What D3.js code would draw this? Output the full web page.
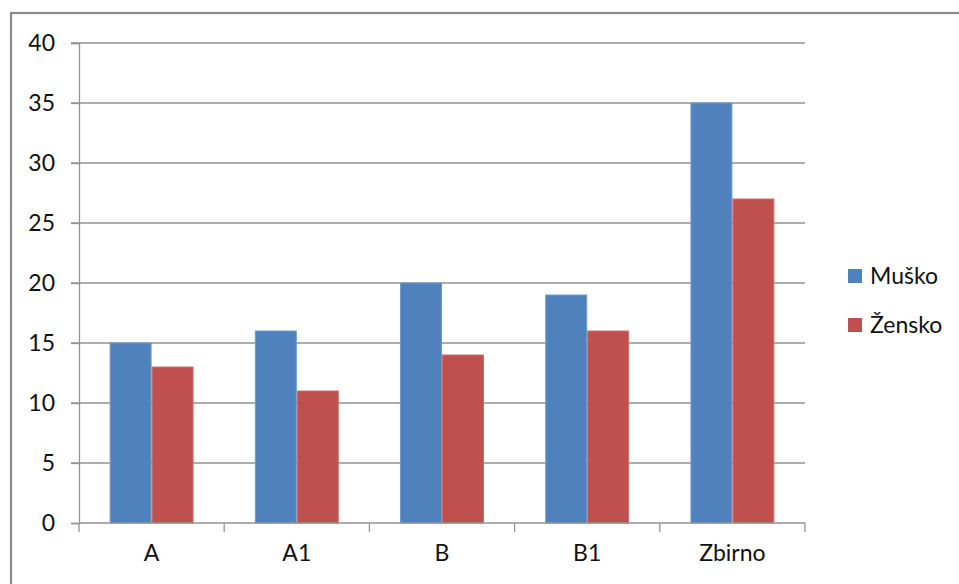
<!DOCTYPE html>
<html>
<head>
<meta charset="utf-8">
<script src="https://cdn.jsdelivr.net/npm/d3@7"></script>
<style>
  html, body { margin: 0; padding: 0; background: #fff; }
  svg { display: block; }
  text { font-family: Lato, "Open Sans", sans-serif; fill: #111; }
</style>
</head>
<body>
<svg id="chart" width="959" height="584"></svg>
<script>
// Categories and series
const categories = ["A", "A1", "B", "B1", "Zbirno"];
const seriesNames = ["Muško", "Žensko"];
const musko = [15, 16, 20, 19, 35];
const zensko = [13, 11, 14, 16, 27];
const yTicks = [0, 5, 10, 15, 20, 25, 30, 35, 40];
const colors = ["#4F81BD", "#C0504D"];
const strokes = ["#7099cc", "#c8706d"];

const svg = d3.select("#chart");
const plot = { left: 79, right: 805, top: 43, bottom: 523 };
const fontSize = 23;

// Outer chart frame (top and left edges visible)
svg.append("rect")
  .attr("x", 11).attr("y", 13)
  .attr("width", 1000).attr("height", 700)
  .attr("fill", "none")
  .attr("stroke", "#8a8a8a")
  .attr("stroke-width", 2.2);

const x0 = d3.scaleBand().domain(categories).range([plot.left, plot.right]).paddingInner(0).paddingOuter(0);
const x1 = d3.scaleBand().domain(seriesNames).range([0, x0.bandwidth()]).paddingInner(0).paddingOuter(0.73);
const y = d3.scaleLinear().domain([0, 40]).range([plot.bottom, plot.top]);

// Horizontal gridlines
svg.append("g").selectAll("line").data(yTicks.filter(d => d > 0)).join("line")
  .attr("x1", plot.left - 8).attr("x2", plot.right)
  .attr("y1", d => y(d)).attr("y2", d => y(d))
  .attr("stroke", "#939393").attr("stroke-width", 1.3);

// Y axis
const yAxis = svg.append("g")
  .attr("transform", `translate(${plot.left},0)`)
  .call(d3.axisLeft(y).tickValues(yTicks).tickSize(8).tickPadding(16));
yAxis.select(".domain").attr("stroke", "#939393").attr("stroke-width", 1.3);
yAxis.selectAll(".tick line").attr("stroke", "#939393").attr("stroke-width", 1.3);
yAxis.selectAll(".tick text").attr("font-size", fontSize).attr("font-family", "Lato, sans-serif").attr("fill", "#111");

// Bars
const data = categories.map((c, i) => ({ cat: c, vals: [musko[i], zensko[i]] }));
const groups = svg.append("g").selectAll("g").data(data).join("g")
  .attr("transform", d => `translate(${x0(d.cat)},0)`);
groups.selectAll("rect").data(d => d.vals.map((v, j) => ({ name: seriesNames[j], v, j }))).join("rect")
  .attr("x", d => x1(d.name) + 0.5)
  .attr("width", x1.bandwidth() - 1)
  .attr("y", d => y(d.v))
  .attr("height", d => y(0) - y(d.v))
  .attr("fill", d => colors[d.j])
  .attr("stroke", d => strokes[d.j])
  .attr("stroke-width", 1);

// X axis
const xAxis = svg.append("g")
  .attr("transform", `translate(0,${plot.bottom})`)
  .call(d3.axisBottom(x0).tickSize(0).tickPadding(22));
xAxis.select(".domain").remove();
xAxis.append("line")
  .attr("x1", plot.left).attr("x2", plot.right).attr("y1", 0).attr("y2", 0)
  .attr("stroke", "#939393").attr("stroke-width", 1.3);
xAxis.selectAll("line.sep").data(d3.range(categories.length + 1)).join("line")
  .attr("class", "sep")
  .attr("x1", i => plot.left + i * x0.bandwidth()).attr("x2", i => plot.left + i * x0.bandwidth())
  .attr("y1", 0).attr("y2", 9)
  .attr("stroke", "#939393").attr("stroke-width", 1.3);
xAxis.selectAll(".tick text").attr("font-size", fontSize).attr("font-family", "Lato, sans-serif").attr("fill", "#111");

// Legend
const legend = svg.append("g").selectAll("g").data(seriesNames).join("g")
  .attr("transform", (d, i) => `translate(848,${269 + i * 49})`);
legend.append("rect").attr("width", 14).attr("height", 14).attr("fill", (d, i) => colors[i]);
legend.append("text").attr("x", 22).attr("y", 15)
  .attr("font-size", fontSize).text(d => d);
</script>
</body>
</html>
